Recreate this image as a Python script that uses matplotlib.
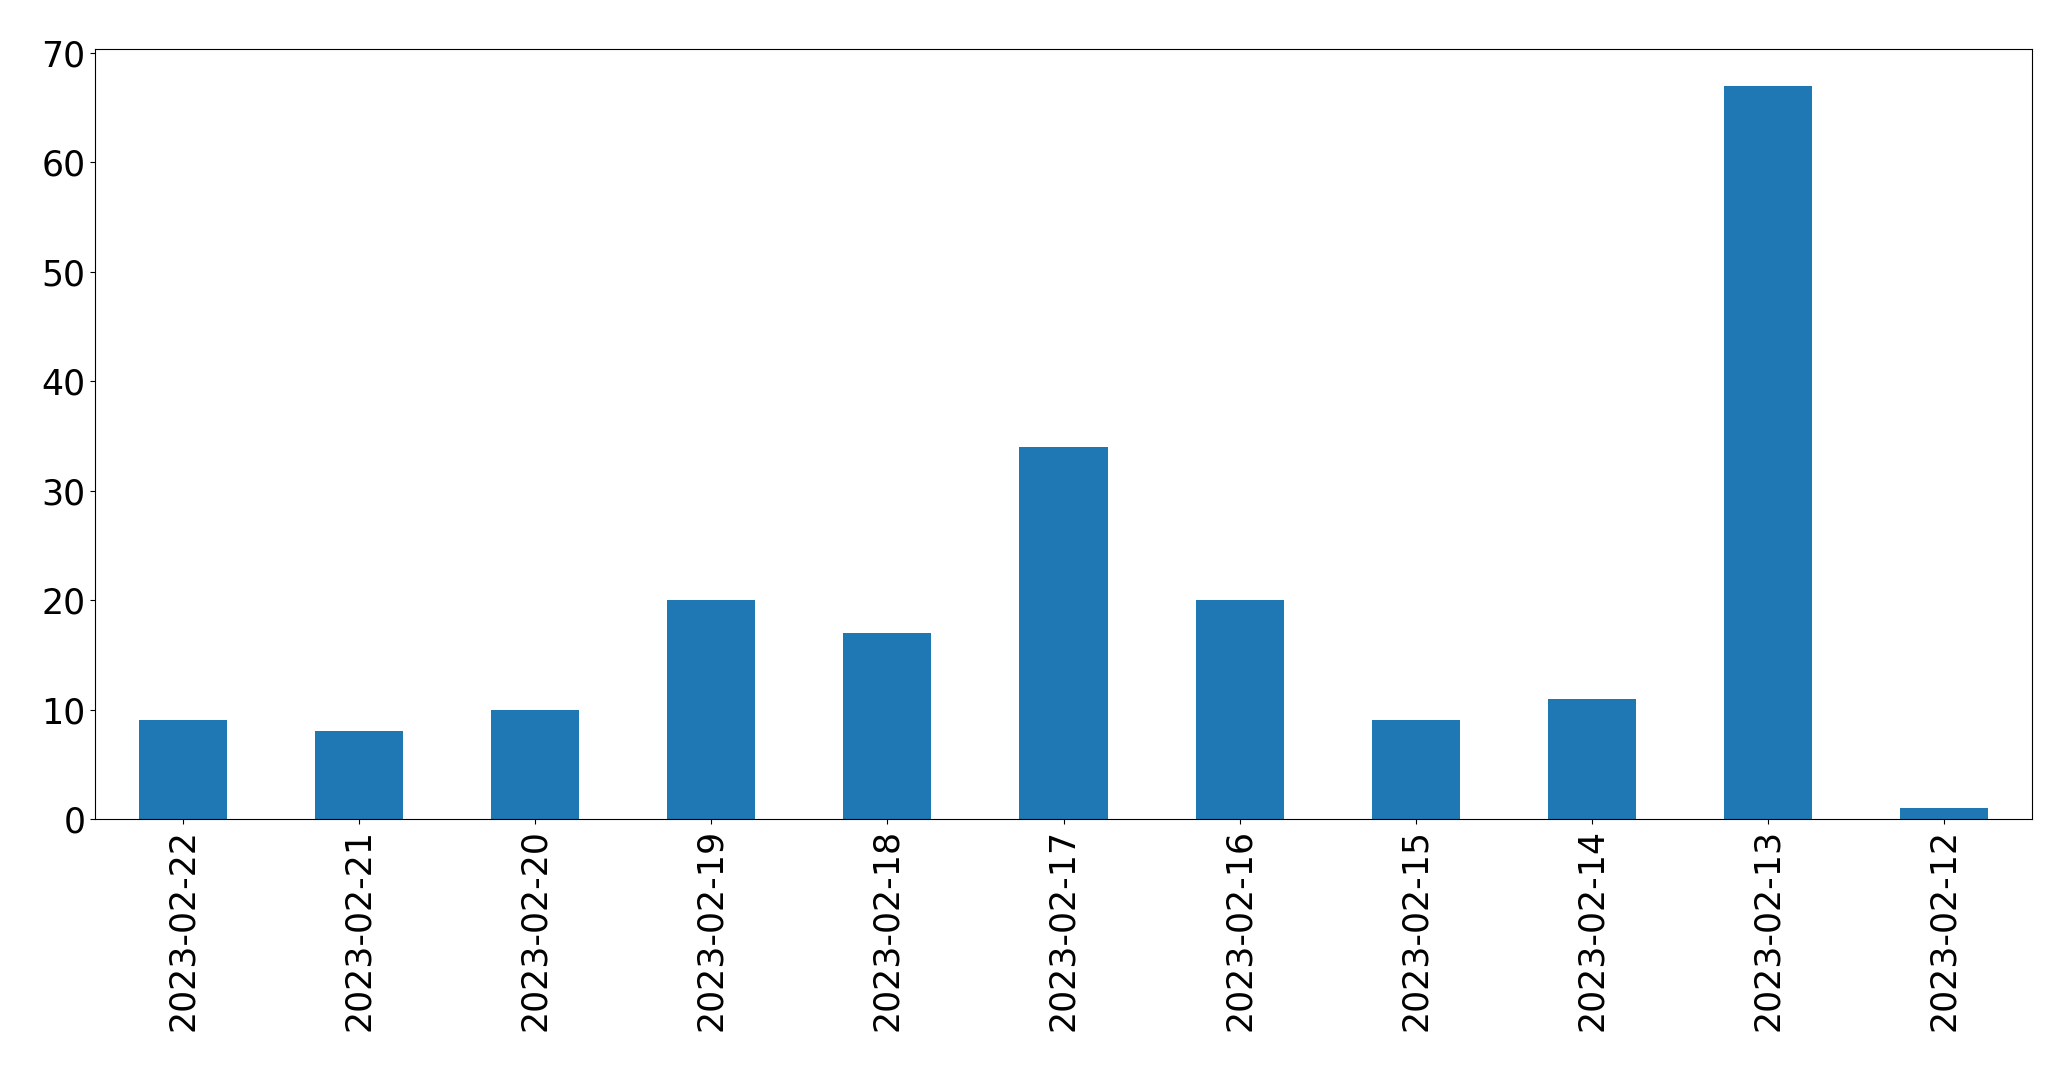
import matplotlib
matplotlib.use("Agg")
import matplotlib.pyplot as plt

dates = ["2023-02-22", "2023-02-21", "2023-02-20", "2023-02-19", "2023-02-18",
         "2023-02-17", "2023-02-16", "2023-02-15", "2023-02-14", "2023-02-13",
         "2023-02-12"]
counts = [9, 8, 10, 20, 17, 34, 20, 9, 11, 67, 1]


def main():
    fig = plt.figure(figsize=(20.71, 10.71), dpi=100)
    ax = fig.add_axes([95 / 2071, 1 - 819 / 1071, (2032 - 95) / 2071, (819 - 49) / 1071])

    positions = range(len(dates))
    ax.bar(positions, counts, width=0.5, color="#1f77b4")
    ax.set_xlim(-0.5, len(dates) - 0.5)
    ax.set_ylim(0, max(counts) * 1.05)
    ax.set_xticks(list(positions))
    ax.set_xticklabels(dates, rotation=90)
    ax.tick_params(axis="both", labelsize=25)

    fig.savefig("out.png", dpi=100)


if __name__ == "__main__":
    main()
